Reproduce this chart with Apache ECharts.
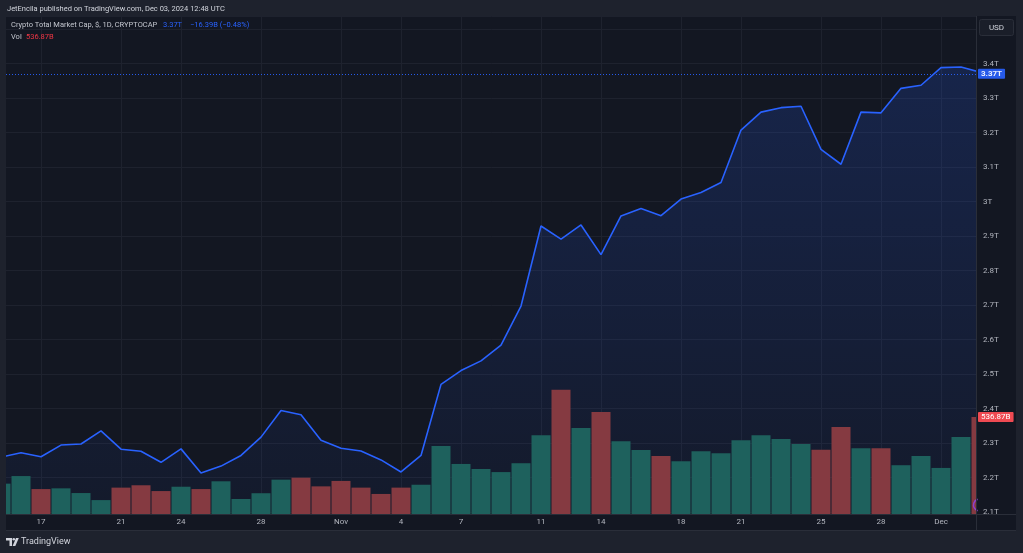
<!DOCTYPE html>
<html>
<head>
<meta charset="utf-8">
<script src="https://cdn.jsdelivr.net/npm/echarts@6/dist/echarts.min.js"></script>
<style>
  html, body { margin: 0; padding: 0; background: #1e222d; }
  #chart { width: 1023px; height: 553px; }
</style>
</head>
<body>
<div id="chart"></div>
<script>
// Daily points from Oct 15 (index 0) to Dec 3, 2024 (index 49)
const price = [
  2.259, 2.272, 2.260, 2.294, 2.297, 2.335, 2.282, 2.276, 2.244, 2.283,
  2.213, 2.233, 2.264, 2.317, 2.394, 2.382, 2.308,
  2.285, 2.277, 2.251, 2.216, 2.264, 2.470, 2.510, 2.538, 2.584, 2.697,
  2.929, 2.891, 2.932, 2.846, 2.958, 2.980, 2.959, 3.007, 3.026, 3.055,
  3.207, 3.259, 3.272, 3.276, 3.151, 3.108, 3.259, 3.257, 3.328, 3.337,
  3.388, 3.390, 3.374
];
// Volume in billions USD
const volume = [
  168, 210, 138, 142, 116, 77, 146, 159, 127, 151,
  138, 181, 83, 115, 190, 201, 153,
  183, 146, 111, 146, 162, 376, 277, 249, 232, 281,
  436, 688, 476, 565, 402, 354, 321, 292, 347, 336,
  408, 436, 415, 387, 356, 482, 364, 364, 270, 321,
  255, 426, 536.87
];
const volUp = [
  1, 1, 0, 1, 1, 1, 0, 0, 0, 1,
  0, 1, 1, 1, 1, 0, 0,
  0, 0, 0, 0, 1, 1, 1, 1, 1, 1,
  1, 0, 1, 0, 1, 1, 0, 1, 1, 1,
  1, 1, 1, 1, 0, 0, 1, 0, 1, 1,
  1, 1, 0
];
const xTickIndex = [2, 6, 9, 13, 17, 20, 23, 27, 30, 34, 37, 41, 44, 47];
const xTickText = ['17', '21', '24', '28', 'Nov', '4', '7', '11', '14', '18', '21', '25', '28', 'Dec'];
const headerText = 'JetEncila published on TradingView.com, Dec 03, 2024 12:48 UTC';
const legendTitle = 'Crypto Total Market Cap, $, 1D, CRYPTOCAP';
const legendChange = '\u221216.39B (\u22120.48%)';

const FONT = 'Roboto, "Liberation Sans", sans-serif';
const TEAL = '#1e615d';
const RED = '#853a41';
const GRIDC = '#1e222e';
const SEP = '#2a2e39';
const PANEL = '#131722';
const OUTER = '#1e222d';

const lastPrice = price[price.length - 1];
const lastVol = volume[volume.length - 1];

const chart = echarts.init(document.getElementById('chart'), null, { renderer: 'canvas' });

const xMin = 0.25, xMax = 48.8;
const pMin = 2.1, pMax = 2.1 + 496 / 345;

function priceLabel(v) {
  const r = Math.round(v * 10) / 10;
  if (Math.abs(v - r) > 1e-6 || r > 3.45) return '';
  return (Math.abs(r - Math.round(r)) < 1e-6 ? r.toFixed(0) : r.toFixed(1)) + 'T';
}

const option = {
  backgroundColor: OUTER,
  animation: false,
  grid: [
    { left: 6, right: 46, top: 16, bottom: 41 },
    { left: 6, right: 46, top: 16, bottom: 39 }
  ],
  xAxis: [
    { type: 'value', gridIndex: 0, min: xMin, max: xMax, show: false },
    {
      type: 'value', gridIndex: 1, min: xMin, max: xMax, interval: 0.25,
      axisLine: { show: false }, axisTick: { show: false }, splitLine: { show: false },
      axisLabel: {
        color: '#b2b5be', fontSize: 8, fontFamily: FONT, margin: 4,
        formatter: function (v) {
          const r = Math.round(v);
          if (Math.abs(v - r) > 1e-6) return '';
          const k = xTickIndex.indexOf(r);
          return k >= 0 ? xTickText[k] : '';
        }
      }
    }
  ],
  yAxis: [
    {
      type: 'value', gridIndex: 0, position: 'right', z: 0,
      min: pMin, max: pMax, interval: 0.1,
      axisLine: { show: false }, axisTick: { show: false },
      splitLine: { lineStyle: { color: GRIDC, width: 1 } },
      axisLabel: { show: false }
    },
    { type: 'value', gridIndex: 1, min: 0, max: 2756, show: false },
    {
      type: 'value', gridIndex: 0, position: 'right', z: 10,
      min: pMin, max: pMax, interval: 0.1,
      axisLine: { show: false }, axisTick: { show: false }, splitLine: { show: false },
      axisLabel: { color: '#b2b5be', fontSize: 8, fontFamily: FONT, margin: 6, formatter: priceLabel }
    }
  ],
  series: [
    {
      // vertical grid lines at the time-axis labels
      type: 'line', xAxisIndex: 1, yAxisIndex: 1, data: [], z: 1, silent: true,
      markLine: {
        z: 1, silent: true, symbol: 'none', label: { show: false },
        lineStyle: { color: GRIDC, type: 'solid', width: 1 },
        data: xTickIndex.map(i => ({ xAxis: i }))
      }
    },
    {
      type: 'line', xAxisIndex: 0, yAxisIndex: 0, z: 2,
      data: price.map((v, i) => [i, v]),
      showSymbol: false, symbol: 'none',
      lineStyle: { color: '#2962ff', width: 1.6 },
      areaStyle: {
        color: new echarts.graphic.LinearGradient(0, 0, 0, 1, [
          { offset: 0, color: 'rgba(41,98,255,0.26)' },
          { offset: 1, color: 'rgba(41,98,255,0.06)' }
        ])
      },
      markLine: {
        z: 20, silent: true, symbol: 'none',
        lineStyle: { color: '#2962ff', type: [1, 2], width: 1, opacity: 0.9 },
        label: {
          position: 'end', distance: 1, color: '#ffffff', fontSize: 8, fontWeight: 'bold',
          fontFamily: FONT, backgroundColor: '#2962ff', padding: [1, 3, 1, 3], borderRadius: 1,
          formatter: () => lastPrice.toFixed(2) + 'T'
        },
        data: [{ yAxis: lastPrice }]
      }
    },
    {
      type: 'bar', xAxisIndex: 1, yAxisIndex: 1, z: 3, barWidth: 19,
      data: volume.map((v, i) => ({ value: [i, v], itemStyle: { color: volUp[i] ? TEAL : RED } })),
      markLine: {
        z: 20, silent: true, symbol: 'none',
        lineStyle: { color: 'rgba(0,0,0,0)', width: 0 },
        label: {
          show: true, position: 'end', distance: 1, color: '#ffffff', fontSize: 8,
          fontFamily: FONT, backgroundColor: '#ef4a52', padding: [1, 3, 1, 3], borderRadius: 1,
          formatter: () => lastVol.toFixed(2) + 'B'
        },
        data: [{ yAxis: lastVol }]
      }
    }
  ],
  graphic: [
    { type: 'rect', z: -10, silent: true, shape: { x: 6, y: 16, width: 1010, height: 514 }, style: { fill: PANEL } },
    // masks that trim the bars to the plot area
    { type: 'rect', z: 5, silent: true, shape: { x: 977, y: 16, width: 39, height: 514 }, style: { fill: PANEL } },
    { type: 'rect', z: 5, silent: true, shape: { x: 0, y: 16, width: 6, height: 514 }, style: { fill: OUTER } },
    { type: 'line', z: 50, silent: true, shape: { x1: 976.5, y1: 16, x2: 976.5, y2: 530 }, style: { stroke: SEP, lineWidth: 1 } },
    { type: 'line', z: 50, silent: true, shape: { x1: 6, y1: 514.5, x2: 1016, y2: 514.5 }, style: { stroke: SEP, lineWidth: 1 } },
    { type: 'line', z: 50, silent: true, shape: { x1: 6, y1: 530.5, x2: 1016, y2: 530.5 }, style: { stroke: SEP, lineWidth: 1 } },
    { type: 'arc', z: 8, silent: true, shape: { cx: 979.5, cy: 505, r: 6, startAngle: Math.PI * 0.6, endAngle: Math.PI * 1.4 }, style: { stroke: '#8e3fd0', lineWidth: 1.5, fill: null } },
    { type: 'rect', z: 60, silent: true, shape: { x: 979.5, y: 19.5, width: 34, height: 16, r: 2 }, style: { fill: '#1a1e29', stroke: SEP, lineWidth: 1 } },
    { type: 'text', z: 61, silent: true, x: 996.5, y: 27.5, style: { text: 'USD', fill: '#d1d4dc', font: '8px ' + FONT, textAlign: 'center', textVerticalAlign: 'middle' } },
    { type: 'text', z: 61, silent: true, x: 7, y: 9, style: { text: headerText, fill: '#d1d4dc', font: '7.5px ' + FONT, textVerticalAlign: 'middle' } },
    { type: 'text', z: 61, silent: true, x: 11, y: 25, style: { text: legendTitle, fill: '#c3c6ce', font: '7.5px ' + FONT, textVerticalAlign: 'middle' } },
    { type: 'text', z: 61, silent: true, x: 163, y: 25, style: { text: lastPrice.toFixed(2) + 'T', fill: '#2962ff', font: '7.5px ' + FONT, textVerticalAlign: 'middle' } },
    { type: 'text', z: 61, silent: true, x: 190, y: 25, style: { text: legendChange, fill: '#2962ff', font: '7.5px ' + FONT, textVerticalAlign: 'middle' } },
    { type: 'text', z: 61, silent: true, x: 11, y: 37, style: { text: 'Vol', fill: '#c3c6ce', font: '7.5px ' + FONT, textVerticalAlign: 'middle' } },
    { type: 'text', z: 61, silent: true, x: 26, y: 37, style: { text: lastVol.toFixed(2) + 'B', fill: '#f23645', font: '7.5px ' + FONT, textVerticalAlign: 'middle' } },
    { type: 'polygon', z: 61, silent: true, shape: { points: [[6, 538], [12, 538], [12, 546], [9.5, 546], [9.5, 540.5], [6, 540.5]] }, style: { fill: '#d1d4dc' } },
    { type: 'circle', z: 61, silent: true, shape: { cx: 13.8, cy: 539.3, r: 1.3 }, style: { fill: '#d1d4dc' } },
    { type: 'polygon', z: 61, silent: true, shape: { points: [[16, 538], [18.8, 538], [15.3, 546], [12.6, 546]] }, style: { fill: '#d1d4dc' } },
    { type: 'text', z: 61, silent: true, x: 21, y: 542, style: { text: 'TradingView', fill: '#d1d4dc', font: '9px ' + FONT, textVerticalAlign: 'middle' } }
  ]
};

chart.setOption(option);
</script>
</body>
</html>
